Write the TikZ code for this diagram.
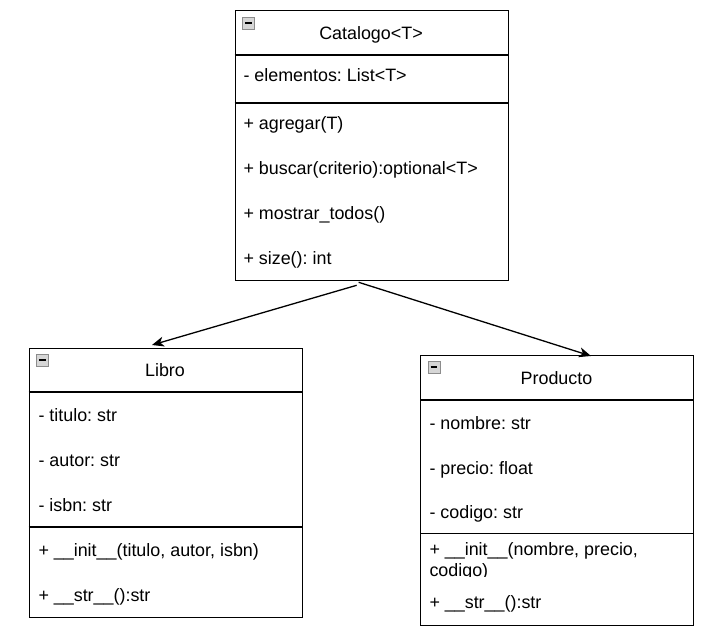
\documentclass[tikz,border=0pt]{standalone}
\usepackage{fontspec}
\setmainfont{Liberation Sans}
\usetikzlibrary{arrows.meta,calc}
\newcommand\umlfs{\fontsize{17.9}{21}\selectfont\frenchspacing}
\definecolor{iconborder}{HTML}{8C8C8C}
\definecolor{iconfill}{HTML}{D6D6D6}
\begin{document}
\begin{tikzpicture}[x=1pt,y=-1pt,
  umlbox/.style={draw=black, line width=1.3pt, rectangle, inner sep=0pt, minimum width=273pt, anchor=north west},
  sepline/.style={line width=1.3pt},
  member/.style={anchor=base west, inner sep=0pt, font=\umlfs},
  umltitle/.style={anchor=base, inner sep=0pt, font=\umlfs},
  icon/.style={draw=iconborder, fill=iconfill, line width=0.9pt, minimum size=12pt, inner sep=0pt, anchor=north west},
  iconbar/.style={line width=2pt, black},
  assoc/.style={line width=1.3pt, -{Stealth[length=12pt,width=10pt,inset=3.5pt]}}
]
\useasboundingbox (0,0) rectangle (712,636);

% ---------- Catalogo<T> ----------
\node[umlbox, minimum height=270pt] (cat) at (234.5,10) {};
\draw[sepline] (cat.west |- 0,55) -- (cat.east |- 0,55);
\draw[sepline] (cat.west |- 0,103) -- (cat.east |- 0,103);
\node[icon] (caticon) at (242,17) {};
\draw[iconbar] ($(caticon.west)+(3,0)$) -- ($(caticon.east)+(-3,0)$);
\node[umltitle] (cattitle) at (371,39.5) {Catalogo<T>};
\node[member] (cata1) at (243.3,82) {- elementos: List<T>};
\node[member] (catm1) at (243.3,129.5) {+ agregar(T)};
\node[member] (catm2) at (243.3,174.5) {+ buscar(criterio):optional<T>};
\node[member] (catm3) at (243.3,219.5) {+ mostrar\_todos()};
\node[member] (catm4) at (243.3,264.5) {+ size(): int};

% ---------- Libro ----------
\node[umlbox, minimum height=269.5pt] (libro) at (28.5,347.5) {};
\draw[sepline] (libro.west |- 0,392) -- (libro.east |- 0,392);
\draw[sepline] (libro.west |- 0,527) -- (libro.east |- 0,527);
\node[icon] (libicon) at (36,354) {};
\draw[iconbar] ($(libicon.west)+(3,0)$) -- ($(libicon.east)+(-3,0)$);
\node[umltitle] (libtitle) at (165,376) {Libro};
\node[member] (liba1) at (38.3,421) {- titulo: str};
\node[member] (liba2) at (38.3,466) {- autor: str};
\node[member] (liba3) at (38.3,511) {- isbn: str};
\node[member] (libm1) at (38.3,556.5) {+ \_\_init\_\_(titulo, autor, isbn)};
\node[member] (libm2) at (38.3,601.5) {+ \_\_str\_\_():str};

% ---------- Producto ----------
\node[umlbox, minimum height=270pt] (prod) at (420,355) {};
\draw[sepline] (prod.west |- 0,400) -- (prod.east |- 0,400);
\draw[sepline] (prod.west |- 0,533.5) -- (prod.east |- 0,533.5);
\node[icon] (proicon) at (427.5,361) {};
\draw[iconbar] ($(proicon.west)+(3,0)$) -- ($(proicon.east)+(-3,0)$);
\node[umltitle] (protitle) at (556.5,384) {Producto};
\node[member] (proa1) at (429.3,429) {- nombre: str};
\node[member] (proa2) at (429.3,474) {- precio: float};
\node[member] (proa3) at (429.3,518.5) {- codigo: str};
\node[member] (prom1) at (429.3,555) {+ \_\_init\_\_(nombre, precio,};
\begin{scope}
  \clip (420,535) rectangle (693,576.5);
  \node[member] (prom1b) at (429.3,576.3) {codigo)};
\end{scope}
\node[member] (prom2) at (429.3,608) {+ \_\_str\_\_():str};

% ---------- connectors ----------
\coordinate (s1) at ($(cat.south)+(-15,4)$);
\coordinate (s2) at ($(cat.south)+(-13,1)$);
\coordinate (e1) at ($(libro.north west)+(123.5,-2.5)$);
\coordinate (e2) at ($(prod.north west)+(171,1)$);
\draw[assoc] (s1) -- (e1);
\draw[assoc] (s2) -- (e2);
\end{tikzpicture}
\end{document}
